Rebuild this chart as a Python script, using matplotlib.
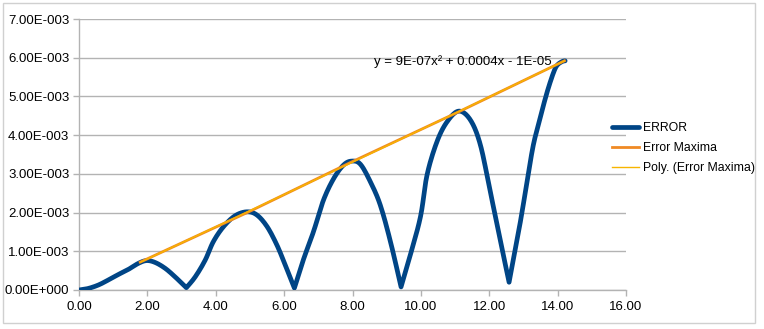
import numpy as np
import matplotlib
matplotlib.use('Agg')
import matplotlib.pyplot as plt
import matplotlib.ticker as mtick
from matplotlib.patches import Rectangle

# ERROR curve (y in units of 1E-3)
err_x = [0.00, 0.27, 0.57, 0.86, 1.15, 1.44, 1.74, 1.98, 2.23, 2.52, 2.81, 3.14,
         3.40, 3.69, 3.93, 4.23, 4.57, 4.91, 5.20, 5.50, 5.79, 6.03, 6.30,
         6.57, 6.86, 7.15, 7.45, 7.74, 7.98, 8.23, 8.52, 8.81, 9.11, 9.42,
         9.69, 9.99, 10.18, 10.47, 10.77, 11.11, 11.45, 11.74, 12.03, 12.33, 12.58,
         12.91, 13.16, 13.30, 13.45, 13.60, 13.74, 13.89, 13.99, 14.13, 14.22]
err_y = [0.00, 0.04, 0.13, 0.26, 0.40, 0.53, 0.69, 0.76, 0.71, 0.56, 0.34, 0.06,
         0.34, 0.77, 1.25, 1.64, 1.92, 2.02, 1.94, 1.64, 1.16, 0.65, 0.05,
         0.80, 1.51, 2.32, 2.88, 3.23, 3.33, 3.25, 2.80, 2.20, 1.25, 0.08,
         0.90, 1.90, 2.97, 3.83, 4.35, 4.62, 4.39, 3.75, 2.54, 1.25, 0.20,
         1.76, 3.10, 3.79, 4.31, 4.82, 5.25, 5.64, 5.81, 5.90, 5.92]

# Error Maxima series
max_x = [1.79, 4.92, 7.98, 11.10, 14.20]
max_y = [0.72, 2.00, 3.31, 4.60, 5.92]

eq_label = "y = 9E-07x² + 0.0004x - 1E-05"

err_x = np.array(err_x)
err_y = np.array(err_y) * 1e-3
max_x = np.array(max_x)
max_y = np.array(max_y) * 1e-3


def smooth_line(x, y, n=12, tension=0.5):
    # cardinal spline (excel-ish smoothing), but keep a corner at the dips
    N = len(x)
    t = np.linspace(0, 1, n, endpoint=False)
    h00 = 2*t**3 - 3*t**2 + 1
    h10 = t**3 - 2*t**2 + t
    h01 = -2*t**3 + 3*t**2
    h11 = t**3 - t**2
    pts = np.column_stack([x, y])
    tin = np.zeros_like(pts)
    tout = np.zeros_like(pts)
    for i in range(N):
        a = pts[max(i-1, 0)]
        b = pts[min(i+1, N-1)]
        tin[i] = tout[i] = tension * (b - a)
        if 0 < i < N-1 and y[i] < y[i-1] and y[i] < y[i+1]:
            tin[i] = 0.6 * (pts[i] - pts[i-1])
            tout[i] = 0.6 * (pts[i+1] - pts[i])
    out = []
    for i in range(N-1):
        seg = (h00[:, None]*pts[i] + h10[:, None]*tout[i]
               + h01[:, None]*pts[i+1] + h11[:, None]*tin[i+1])
        out.append(seg)
    out.append(pts[-1:])
    out = np.vstack(out)
    return out[:, 0], out[:, 1]


plt.rcParams['font.family'] = ['Liberation Sans', 'DejaVu Sans']
plt.rcParams['font.size'] = 9.5

fig = plt.figure(figsize=(7.64, 3.29), dpi=100)
ax = fig.add_axes([79/764, 39/329, 547/764, 271/329])

# trendline through maxima
coef = np.polyfit(max_x, max_y, 2)
tx = np.linspace(max_x[0], max_x[-1], 100)
ty = np.polyval(coef, tx)

sx, sy = smooth_line(err_x, err_y)
ax.plot(sx, sy, color='#004586', lw=3.4, solid_joinstyle='round',
        solid_capstyle='round', label='ERROR', zorder=3)
ax.plot(max_x, max_y, color='#f08a24', lw=2.0, label='Error Maxima', zorder=4)
ax.plot(tx, ty, color='#f7b500', lw=1.0, label='Poly. (Error Maxima)', zorder=5)

ax.text(8.64, 5.89e-3, eq_label, ha='left', va='center', fontsize=9.5, zorder=6)

ax.set_xlim(0, 16)
ax.set_ylim(0, 7e-3)
ax.set_xticks(np.arange(0, 17, 2))
ax.set_yticks(np.arange(0, 7.5e-3, 1e-3))
ax.xaxis.set_major_formatter(mtick.FormatStrFormatter('%.2f'))

def sci_fmt(v, pos):
    if v == 0:
        return "0.00E+000"
    e = int(np.floor(np.log10(abs(v)) + 1e-9))
    m = v / 10**e
    return "%.2fE%s%03d" % (m, '-' if e < 0 else '+', abs(e))

ax.yaxis.set_major_formatter(mtick.FuncFormatter(sci_fmt))
ax.grid(axis='y', color='#b3b3b3', lw=1.0)
ax.set_axisbelow(True)
for s in ['top', 'right']:
    ax.spines[s].set_visible(False)
for s in ['left', 'bottom']:
    ax.spines[s].set_color('#b3b3b3')
    ax.spines[s].set_linewidth(1.0)
ax.tick_params(axis='both', colors='#b3b3b3', labelcolor='black', length=4, width=1.0)
ax.tick_params(axis='x', pad=4)
ax.tick_params(axis='y', pad=3)

fig.legend(loc='center left', bbox_to_anchor=(601/764, 1 - 148/329), frameon=False,
           handlelength=2.2, labelspacing=0.65, handletextpad=0.3, fontsize=8.8)

fig.patches.append(Rectangle((3/764, 6/329), 752/764, 320/329, transform=fig.transFigure,
                             fill=False, edgecolor='#d0d0d0', lw=1.0))

fig.savefig('out.png', dpi=100)
